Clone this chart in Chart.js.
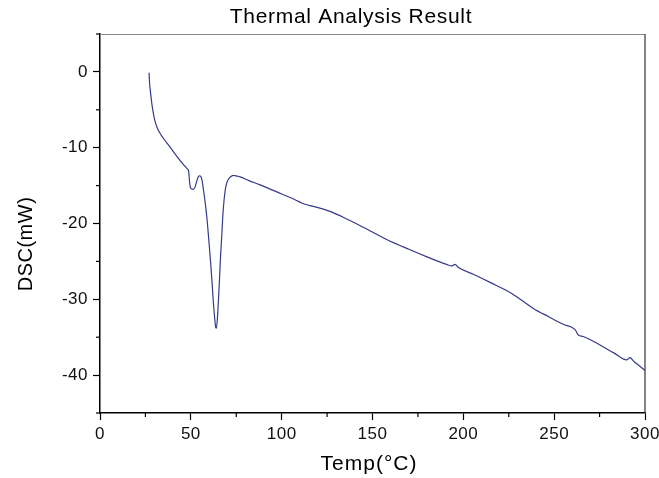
<!DOCTYPE html>
<html><head><meta charset="utf-8">
<script src="https://cdn.jsdelivr.net/npm/chart.js@4.4.1/dist/chart.umd.min.js"></script>
<style>html,body{margin:0;padding:0;background:#fff}canvas{display:block}</style>
</head><body>
<canvas id="c" width="659" height="478"></canvas>
<script>
const chartTitle = 'Thermal Analysis Result';
const xAxisTitle = 'Temp(°C)';
const yAxisTitle = 'DSC(mW)';

const temps = [27.0,27.3,27.9,28.6,29.4,30.5,32.1,34.9,38.5,42.2,45.5,48.1,48.8,49.3,49.8,51.4,52.3,53.2,54.2,54.9,56.0,57.2,58.2,59.1,60.0,60.9,61.7,62.4,63.1,63.7,64.1,64.6,65.1,65.7,66.3,67.0,67.6,68.3,69.0,69.7,70.6,71.6,73.4,75.5,77.1,82,88.1,95,100,105,108.5,111,115,120,126.6,135,145,157.8,170,180,190.8,193.6,195.4,197.3,205.5,215,225.7,232,238.5,247,255,261.5,263.3,266,275,283,289.9,291.7,293.9,297,300];
const dsc = [-0.1,-1.5,-2.9,-4.3,-5.5,-6.7,-7.7,-8.75,-9.9,-11.1,-12.1,-12.8,-13.1,-14.5,-15.3,-15.5,-15.2,-14.45,-13.8,-13.7,-14.1,-16.0,-17.8,-19.9,-22.5,-25.2,-27.8,-30.4,-32.4,-33.7,-33.8,-32.6,-30.5,-27.8,-24.6,-21.7,-19.0,-16.9,-15.5,-14.7,-14.2,-13.9,-13.65,-13.75,-13.85,-14.35,-14.9,-15.6,-16.1,-16.6,-17.0,-17.3,-17.6,-17.9,-18.4,-19.3,-20.5,-22.1,-23.4,-24.4,-25.4,-25.6,-25.4,-25.8,-26.7,-27.8,-29.1,-30.1,-31.2,-32.3,-33.3,-34.0,-34.7,-34.9,-36.0,-37.1,-38.0,-37.7,-38.2,-38.8,-39.4];

const xTicks = [0,50,100,150,200,250,300];
const yTicks = [-40,-30,-20,-10,0];
const xMinorTicks = [25,75,125,175,225,275];
const yMinorTicks = [5,-5,-15,-25,-35,-45];

const FONT = '"Liberation Sans", Arial, sans-serif';

const framePlugin = {
  id: 'frame',
  beforeDraw(chart) {
    chart.ctx.letterSpacing = '0.5px';
  },
  afterDraw(chart) {
    const ctx = chart.ctx, a = chart.chartArea;
    const xs = chart.scales.x, ys = chart.scales.y;
    ctx.save();
    ctx.letterSpacing = '0px';
    ctx.lineWidth = 1.2;
    ctx.strokeStyle = '#888';
    ctx.beginPath(); ctx.moveTo(a.left, a.top + 0.5); ctx.lineTo(a.right, a.top + 0.5); ctx.stroke();
    ctx.strokeStyle = '#333';
    ctx.beginPath(); ctx.moveTo(a.right, a.top); ctx.lineTo(a.right, a.bottom); ctx.stroke();
    ctx.strokeStyle = '#000';
    ctx.lineWidth = 1.2;
    xMinorTicks.forEach(v => {
      const px = xs.getPixelForValue(v);
      ctx.beginPath(); ctx.moveTo(px, a.bottom); ctx.lineTo(px, a.bottom + 4); ctx.stroke();
    });
    yMinorTicks.forEach(v => {
      const py = ys.getPixelForValue(v);
      ctx.beginPath(); ctx.moveTo(a.left, py); ctx.lineTo(a.left - 4, py); ctx.stroke();
    });
    ctx.fillStyle = '#000';
    ctx.textAlign = 'center';
    ctx.textBaseline = 'alphabetic';
    ctx.font = '21px ' + FONT;
    ctx.letterSpacing = '0.7px';
    ctx.fillText(chartTitle, 351, 22.5);
    ctx.letterSpacing = '1px';
    ctx.fillText(xAxisTitle, 369, 470);
    ctx.font = '20px ' + FONT;
    ctx.letterSpacing = '0.5px';
    ctx.translate(31.5, 244);
    ctx.rotate(-Math.PI / 2);
    ctx.fillText(yAxisTitle, 0, 0);
    ctx.restore();
  }
};

new Chart(document.getElementById('c'), {
  type: 'line',
  data: {
    datasets: [{
      data: temps.map((t, i) => ({x: t, y: dsc[i]})),
      borderColor: '#363a8a',
      borderWidth: 1.2,
      pointRadius: 0,
      fill: false,
      cubicInterpolationMode: 'monotone'
    }]
  },
  options: {
    responsive: false,
    devicePixelRatio: 1,
    animation: false,
    events: [],
    layout: {padding: {top: 34, right: 14, left: 0, bottom: 0}},
    plugins: {legend: {display: false}, tooltip: {enabled: false}, title: {display: false}},
    scales: {
      x: {
        type: 'linear', min: 0, max: 300,
        afterBuildTicks: s => { s.ticks = xTicks.map(v => ({value: v})); },
        afterFit: s => { s.height = 65; s.paddingLeft = 0; s.paddingRight = 0; },
        grid: {drawOnChartArea: false, tickLength: 7, tickColor: '#000', tickWidth: 1.2},
        border: {color: '#000', width: 1.5},
        ticks: {color: '#111', font: {size: 17, family: FONT}, padding: 4, maxRotation: 0, autoSkip: false}
      },
      y: {
        type: 'linear', min: -45, max: 5,
        afterBuildTicks: s => { s.ticks = yTicks.map(v => ({value: v})); },
        afterFit: s => { s.width = 100; s.paddingTop = 0; s.paddingBottom = 0; },
        grid: {drawOnChartArea: false, tickLength: 7, tickColor: '#000', tickWidth: 1.2},
        border: {color: '#000', width: 1.5},
        ticks: {color: '#111', font: {size: 17, family: FONT}, padding: 5, autoSkip: false}
      }
    }
  },
  plugins: [framePlugin]
});
</script>
</body></html>
